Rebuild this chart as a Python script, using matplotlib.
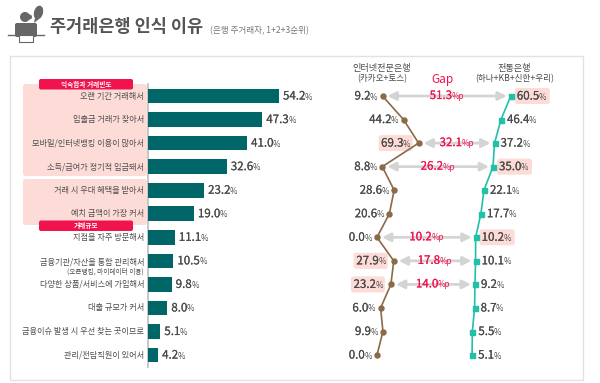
import matplotlib
matplotlib.use('Agg')
import matplotlib.pyplot as plt
import matplotlib.patheffects as pe
from matplotlib.patches import Circle, Ellipse, FancyBboxPatch, Polygon, Rectangle

plt.rcParams['font.family'] = ['Noto Sans CJK KR', 'DejaVu Sans']

# data
reasons = ['오랜 기간 거래해서', '입출금 거래가 잦아서', '모바일/인터넷뱅킹 이용이 많아서',
           '소득/급여가 정기적 입금돼서', '거래 시 우대 혜택을 받아서', '예치 금액이 가장 커서',
           '지점을 자주 방문해서', '금융기관/자산을 통합 관리해서', '다양한 상품/서비스에 가입해서',
           '대출 규모가 커서', '금융이슈 발생 시 우선 찾는 곳이므로', '관리/전담직원이 있어서']
total = [54.2, 47.3, 41.0, 32.6, 23.2, 19.0, 11.1, 10.5, 9.8, 8.0, 5.1, 4.2]
internet = [9.2, 44.2, 69.3, 8.8, 28.6, 20.6, 0.0, 27.9, 23.2, 6.0, 9.9, 0.0]
traditional = [60.5, 46.4, 37.2, 35.0, 22.1, 17.7, 10.2, 10.1, 9.2, 8.7, 5.5, 5.1]
gap_rows = [0, 2, 3, 6, 7, 8]
gap_values = [51.3, 32.1, 26.2, 10.2, 17.8, 14.0]
internet_marked = [2, 7, 8]
traditional_marked = [0, 3, 6]

DARK = '#4a4a4a'
RED = '#f0134d'
PINK = '#fddcd8'
W, H = 600, 383
ROW_H = 23.55
ROW_0 = 96

fig = plt.figure(figsize=(6, 3.83), dpi=100, facecolor='white')

# pixel canvas for everything that is not data
ax = fig.add_axes([0, 0, 1, 1])
ax.set_xlim(0, W)
ax.set_ylim(H, 0)
ax.axis('off')


def data_axes(left, width, xmax):
    # all three share the same row scale
    a = fig.add_axes([left / W, 1 - 370 / H, width / W, 290 / H])
    a.set_xlim(0, xmax)
    a.set_ylim((370 - ROW_0) / ROW_H, (80 - ROW_0) / ROW_H)
    a.axis('off')
    return a


ax_bar = data_axes(148, 200, 200 / 2.417)
ax_net = data_axes(377, 60, 100)
ax_trad = data_axes(468.5, 70, 100)


def to_px(a, value, row):
    return ax.transData.inverted().transform(a.transData.transform((value, row)))


def value_label(x, y, text, side='left', unit='%', color=DARK):
    # number and small unit are two texts, placed by measuring the first one
    renderer = fig.canvas.get_renderer()
    heavy = [pe.withStroke(linewidth=0.12, foreground=color)]
    if side == 'left':
        t = ax.text(x, y, text, fontsize=8.3, color=color, va='center', ha='left', zorder=6, path_effects=heavy)
        end = ax.transData.inverted().transform(t.get_window_extent(renderer).get_points())[1][0]
        ax.text(end - 0.5, y + 1, unit, fontsize=5.8, color=color, va='center', ha='left', zorder=6)
    else:
        u = ax.text(x, y + 1, unit, fontsize=5.8, color=color, va='center', ha='right', zorder=6)
        start = ax.transData.inverted().transform(u.get_window_extent(renderer).get_points())[0][0]
        ax.text(start + 0.5, y, text, fontsize=8.3, color=color, va='center', ha='right', zorder=6, path_effects=heavy)


def rounded(x0, y0, x1, y1, color, pad=2.5, zorder=1):
    ax.add_patch(FancyBboxPatch((x0 + pad, y0 + pad), x1 - x0 - 2 * pad, y1 - y0 - 2 * pad,
                                boxstyle='round,pad=%s' % pad, fc=color, ec='none', zorder=zorder))


# icon
GRAY = '#666666'
ax.add_patch(Circle((25, 17), 5, fc=GRAY, ec='none'))
ax.add_patch(FancyBboxPatch((17, 25), 18, 10, boxstyle='round,pad=2', fc=GRAY, ec='none'))
ax.plot([8, 44], [35, 35], color=GRAY, lw=1)
ax.add_patch(Rectangle((19, 35), 14, 7, fc='white', ec=GRAY, lw=0.8, zorder=3))
ax.add_patch(Ellipse((38.5, 12.5), 9, 14, angle=15, fc=GRAY, ec='none'))
ax.add_patch(Polygon([[35, 18], [39, 19], [34, 23]], fc=GRAY, ec='none'))
ax.add_patch(Circle((29.5, 17), 2.5, fc=GRAY, ec='none'))

# title
ax.text(50, 27, '주거래은행 인식 이유', fontsize=12.6, fontweight='bold', color='#555555', va='center')
ax.text(210, 31, '(은행 주거래자, 1+2+3순위)', fontsize=6.2, color='#777777', va='center')

# panel and pink groups
ax.add_patch(Rectangle((9.5, 55.5), 573, 324, fc='white', ec='#e2e2e2', lw=1, zorder=0))
rounded(23, 84, 147, 176, PINK)
rounded(23, 179, 147, 225, PINK)
rounded(39, 79, 133, 89.5, RED, pad=2, zorder=3)
rounded(39, 220.5, 133, 231, RED, pad=2, zorder=3)
ax.text(86, 84, '익숙함과 거래빈도', fontsize=4.8, fontweight='bold', color='white',
        ha='center', va='center', zorder=4)
ax.text(86, 225.5, '거래규모', fontsize=4.8, fontweight='bold', color='white',
        ha='center', va='center', zorder=4)
ax.plot([147.5, 147.5], [84, 367], color='#bdbdbd', lw=1.2, zorder=2)

# bars
rows = range(len(total))
ax_bar.barh(rows, total, height=0.62, color='#006668')
for i in rows:
    px, py = to_px(ax_bar, total[i], i)
    value_label(px + 4, py, f'{total[i]:.1f}')
    label_y = py + 1 if i == 7 else py
    ax.text(144, label_y, reasons[i], fontsize=5.9, color='#4f4f4f', ha='right', va='center', zorder=4)
px, py = to_px(ax_bar, 0, 7)
ax.text(144, py + 10.5, '(오픈뱅킹, 마이데이터 이용)', fontsize=4.8, color='#4f4f4f', ha='right', va='center', zorder=4)

# the two profile lines
ax_net.plot(internet, rows, color='#8a6a48', lw=1.2, marker='o', ms=3.6, clip_on=False)
ax_trad.plot(traditional, rows, color='#22bfa9', lw=1.2, marker='s', ms=3.6, clip_on=False)

for i in rows:
    px, py = to_px(ax_net, internet[i], i)
    end = px - 5
    if i in internet_marked:
        end -= 3
        rounded(end - 32, py - 8, end + 2, py + 8, PINK, zorder=2)
    value_label(end, py, f'{internet[i]:.1f}', side='right')

    px, py = to_px(ax_trad, traditional[i], i)
    start = px + 6
    if i in traditional_marked:
        rounded(start - 2, py - 8, start + 33, py + 8, PINK, zorder=2)
    value_label(start, py, f'{traditional[i]:.1f}')

# gap arrows
for row, gap in zip(gap_rows, gap_values):
    x0, y = to_px(ax_net, internet[row], row)
    x1, _ = to_px(ax_trad, traditional[row], row)
    ax.annotate('', xy=(x1 - 4, y), xytext=(x0 + 5, y),
                arrowprops=dict(arrowstyle='<|-|>,head_length=0.5,head_width=0.25', mutation_scale=10,
                                lw=2, color='#d4d4d4', shrinkA=0, shrinkB=0), zorder=3)
    mid = (x0 + x1) / 2
    value_label(mid - 17, y - 0.5, f'{gap:.1f}', unit='%p', color=RED)

# headers
ax.text(382, 68, '인터넷전문은행', fontsize=6.6, color=DARK, ha='center', va='center')
ax.text(382, 79, '(카카오+토스)', fontsize=6.2, color=DARK, ha='center', va='center')
ax.text(514, 68, '전통은행', fontsize=6.6, color=DARK, ha='center', va='center')
ax.text(515, 79, '(하나+KB+신한+우리)', fontsize=6.2, color=DARK, ha='center', va='center')
ax.text(442, 79, 'Gap', fontsize=8.5, color=RED, ha='center', va='center')

fig.savefig('out.png', dpi=100)
